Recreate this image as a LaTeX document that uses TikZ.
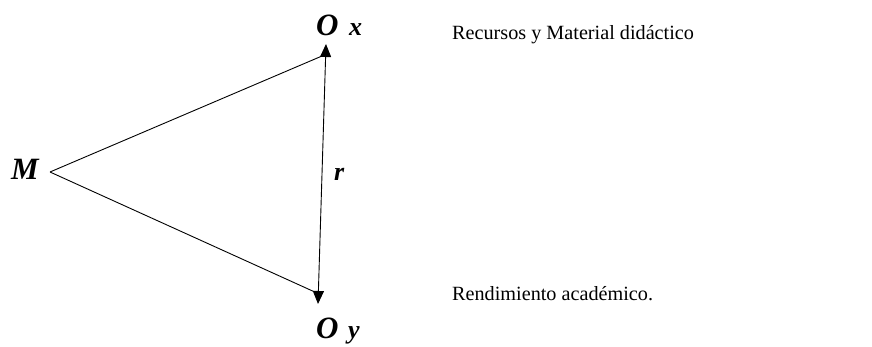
\documentclass[tikz,border=0pt]{standalone}
\usepackage{fontspec}
\setmainfont{Liberation Serif}
\usetikzlibrary{arrows.meta}
\begin{document}
\begin{tikzpicture}[x=1pt,y=-1pt,
  lbl/.style={inner sep=0pt,anchor=base west,font=\fontsize{31}{34}\selectfont\bfseries\itshape},
  sml/.style={inner sep=0pt,anchor=base west,font=\fontsize{26}{30}\selectfont\bfseries\itshape},
  txt/.style={inner sep=0pt,anchor=base west,font=\fontsize{20.2}{24}\selectfont},
  ln/.style={line width=0.9pt},
  tip/.style={-{Triangle[width=11pt,length=13pt]}}]
\useasboundingbox (0,0) rectangle (872,347);
\coordinate (M) at (50,172);
\coordinate (T) at (322,56);
\coordinate (B) at (317,293);
\coordinate (Ttip) at (326,44);
\coordinate (Btip) at (318,304);
\coordinate (mid) at (322,174);
\draw[ln] (M) -- (T);
\draw[ln] (M) -- (B);
\draw[ln,tip] (mid) -- (Ttip);
\draw[ln,tip] (mid) -- (Btip);
\node[lbl] (mlab) at (11,180) {M};
\node[lbl] (o1) at (316,36) {O};
\node[sml] (x1) at (349,36) {x};
\node[lbl] (o2) at (316,338) {O};
\node[sml] (y2) at (348,338) {y};
\node[sml] (r) at (334,181) {r};
\node[txt] (t1) at (452,40) {Recursos y Material didáctico};
\node[txt] (t2) at (452,300) {Rendimiento académico.};
\end{tikzpicture}
\end{document}
